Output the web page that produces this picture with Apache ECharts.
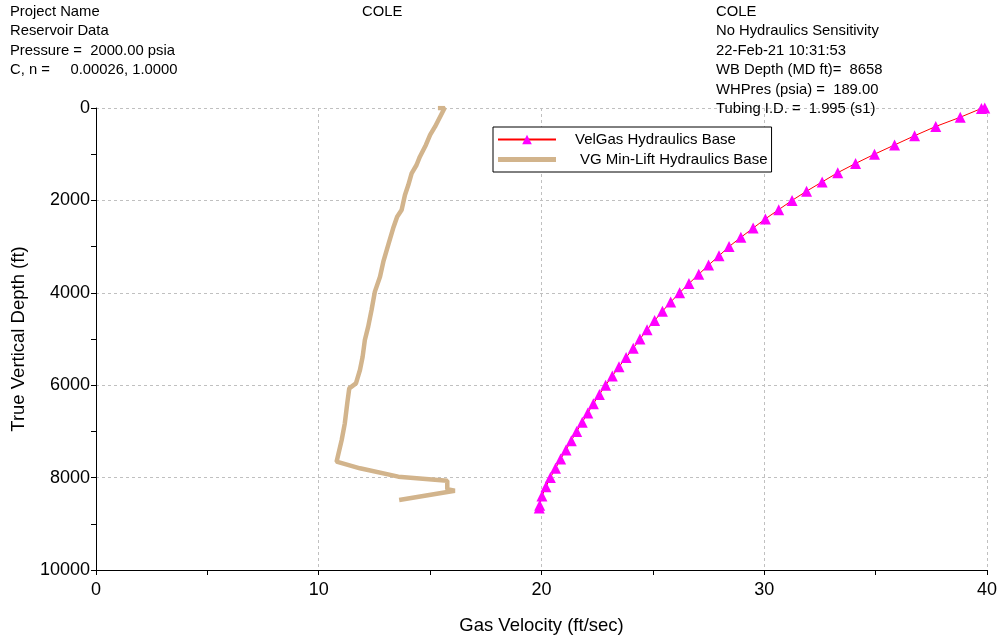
<!DOCTYPE html>
<html>
<head>
<meta charset="utf-8">
<script src="https://cdn.jsdelivr.net/npm/echarts@6/dist/echarts.min.js"></script>
<style>
html,body{margin:0;padding:0;background:#fff;}
#chart{width:1000px;height:641px;}
</style>
</head>
<body>
<div id="chart"></div>
<script>
// ---- data ----
const velGasName = 'VelGas Hydraulics Base';
const minLiftName = 'VG Min-Lift Hydraulics Base';
const velGasDepth = [0, 10, 200, 400, 600, 800, 1000, 1200, 1400, 1600, 1800, 2000, 2200, 2400, 2600, 2800, 3000, 3200, 3400, 3600, 3800, 4000, 4200, 4400, 4600, 4800, 5000, 5200, 5400, 5600, 5800, 6000, 6200, 6400, 6600, 6800, 7000, 7200, 7400, 7600, 7800, 8000, 8200, 8400, 8600, 8658];
const velGasVel = [39.9, 39.75, 38.8, 37.7, 36.75, 35.85, 34.95, 34.1, 33.3, 32.6, 31.9, 31.25, 30.65, 30.05, 29.5, 28.95, 28.42, 27.97, 27.5, 27.06, 26.62, 26.2, 25.8, 25.43, 25.08, 24.74, 24.42, 24.12, 23.8, 23.48, 23.18, 22.88, 22.6, 22.33, 22.08, 21.83, 21.58, 21.34, 21.1, 20.86, 20.63, 20.4, 20.2, 20.02, 19.92, 19.9];
const minLiftDepth = [0, 0, 20, 404, 584, 800, 1054, 1234, 1414, 1667, 1883, 2208, 2352, 2604, 2965, 3326, 3651, 3975, 4372, 4733, 5022, 5383, 5671, 5960, 6068, 6392, 6825, 7186, 7655, 7799, 7980, 8067, 8253, 8283, 8485];
const minLiftVel = [15.35, 15.65, 15.62, 15.22, 15.0, 14.81, 14.54, 14.39, 14.17, 14.02, 13.87, 13.72, 13.52, 13.34, 13.12, 12.9, 12.75, 12.52, 12.37, 12.22, 12.07, 11.97, 11.85, 11.67, 11.37, 11.28, 11.17, 11.03, 10.8, 11.85, 13.57, 15.77, 15.77, 16.11, 13.61];
const headerLeft = ['Project Name', 'Reservoir Data', 'Pressure =  2000.00 psia', 'C, n =     0.00026, 1.0000'];
const headerCenter = ['COLE'];
const headerRight = ['COLE', 'No Hydraulics Sensitivity', '22-Feb-21 10:31:53', 'WB Depth (MD ft)=  8658', 'WHPres (psia) =  189.00', 'Tubing I.D. =  1.995 (s1)'];
const xAxisTitle = 'Gas Velocity (ft/sec)';
const yAxisTitle = 'True Vertical Depth (ft)';

// ---- build ----
const FONT = '"Liberation Sans", Arial, sans-serif';
const velGasData = velGasDepth.map((d, i) => [velGasVel[i], d]);
const minLiftData = minLiftDepth.map((d, i) => [minLiftVel[i], d]);

function textBlock(lines, x, y0, step) {
  return lines.map((t, i) => ({
    type: 'text', left: x, top: y0 + i * step, z: 100,
    style: { text: t, fill: '#000', font: '14.8px ' + FONT }
  }));
}

const chart = echarts.init(document.getElementById('chart'), null, { renderer: 'canvas' });
chart.setOption({
  animation: false,
  backgroundColor: '#fff',
  textStyle: { fontFamily: FONT },
  graphic: [].concat(
    textBlock(headerLeft, 10, 4, 19.5),
    textBlock(headerCenter, 362, 4, 19.5),
    textBlock(headerRight, 716, 4, 19.5)
  ),
  grid: { left: 96, right: 13, top: 108, bottom: 71, containLabel: false },
  legend: {
    left: 493, top: 127, orient: 'vertical',
    backgroundColor: '#fff', borderColor: '#000', borderWidth: 1,
    padding: [5, 4, 5, 4], itemGap: 5, itemWidth: 58, itemHeight: 12,
    data: [
      { name: velGasName },
      { name: minLiftName, icon: 'path://M0,0 L0,0 M0,12 L0,12 M0,3.6 L58,3.6 L58,8.4 L0,8.4 Z', itemStyle: { color: '#d2b48c' } }
    ],
    formatter: function (name) { return name === minLiftName ? '{b|' + name + '}' : '{a|' + name + '}'; },
    textStyle: {
      color: '#000', fontSize: 15, fontFamily: FONT,
      rich: { a: { padding: [0, 0, 0, 14], fontSize: 15, fontFamily: FONT }, b: { padding: [0, 0, 0, 19], fontSize: 15, fontFamily: FONT } }
    }
  },
  xAxis: {
    type: 'value', min: 0, max: 40, interval: 10,
    name: xAxisTitle, nameLocation: 'middle', nameGap: 46,
    nameTextStyle: { fontSize: 18.5, color: '#000', fontFamily: FONT },
    axisLine: { show: true, onZero: false, lineStyle: { color: '#000', width: 1 } },
    axisTick: { show: true, length: 5, lineStyle: { color: '#000' } },
    minorTick: { show: true, splitNumber: 2, length: 5, lineStyle: { color: '#000' } },
    axisLabel: { fontSize: 18, color: '#000', margin: 11, fontFamily: FONT },
    splitLine: { show: true, lineStyle: { color: '#c0c0c0', type: [3, 3], width: 1 } }
  },
  yAxis: {
    type: 'value', min: 0, max: 10000, interval: 2000, inverse: true,
    name: yAxisTitle, nameLocation: 'middle', nameGap: 68, nameRotate: 90,
    nameTextStyle: { fontSize: 18.5, color: '#000', fontFamily: FONT },
    axisLine: { show: true, onZero: false, lineStyle: { color: '#000', width: 1 } },
    axisTick: { show: true, length: 5, lineStyle: { color: '#000' } },
    minorTick: { show: true, splitNumber: 2, length: 5, lineStyle: { color: '#000' } },
    axisLabel: { fontSize: 18, color: '#000', margin: 6, fontFamily: FONT, formatter: function (v) { return String(v); } },
    splitLine: { show: true, lineStyle: { color: '#c0c0c0', type: [3, 3], width: 1 } }
  },
  series: [
    {
      name: velGasName, type: 'line', data: velGasData,
      symbol: 'triangle', symbolSize: 11, showSymbol: true,
      lineStyle: { color: '#ff0000', width: 1 },
      itemStyle: { color: '#ff00ff' },
      z: 3
    },
    {
      name: minLiftName, type: 'line', data: minLiftData,
      symbol: 'none', showSymbol: false,
      lineStyle: { color: '#d2b48c', width: 4.5 },
      itemStyle: { color: '#d2b48c' },
      z: 2
    }
  ]
});
</script>
</body>
</html>
